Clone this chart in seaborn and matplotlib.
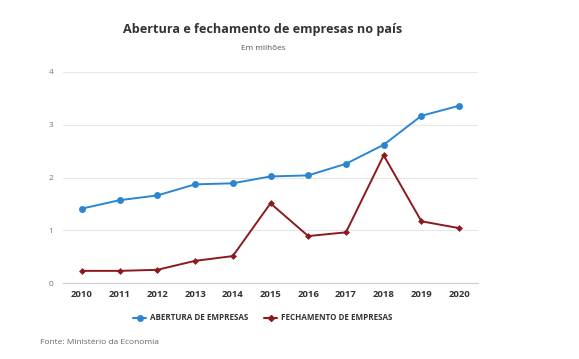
import matplotlib
matplotlib.use("Agg")
import matplotlib.pyplot as plt
import seaborn as sns
import pandas as pd
import numpy as np
from matplotlib.lines import Line2D

years = [2010, 2011, 2012, 2013, 2014, 2015, 2016, 2017, 2018, 2019, 2020]
abertura = [1.41, 1.57, 1.66, 1.87, 1.89, 2.02, 2.04, 2.26, 2.62, 3.17, 3.36]
fechamento = [0.23, 0.23, 0.25, 0.42, 0.51, 1.51, 0.89, 0.96, 2.42, 1.17, 1.04]
series_names = ["ABERTURA DE EMPRESAS", "FECHAMENTO DE EMPRESAS"]
colors = ["#2b86d1", "#8b1a1f"]

sns.set_theme(style="white")
plt.rcParams['font.family'] = ['Open Sans', 'DejaVu Sans']

df = pd.DataFrame({
    "idx": list(range(len(years))) * 2,
    "valor": abertura + fechamento,
    "serie": [series_names[0]] * len(years) + [series_names[1]] * len(years),
})

fig = plt.figure(figsize=(5.79, 3.59), dpi=100)
ax = fig.add_axes([63/579, 1 - 283/359, (478-63)/579, (283-72)/359])

sns.lineplot(data=df, x="idx", y="valor", hue="serie", style="serie",
             palette=colors, markers={series_names[0]: "o", series_names[1]: "D"},
             dashes=False, markersize=5, linewidth=1.4, markeredgewidth=0,
             ax=ax, legend=False)
ax.lines[1].set_markersize(3.5)

ax.set_xlim(-0.5, len(years) - 0.5)
ax.set_ylim(0, 4)
ax.set_yticks([0, 1, 2, 3, 4])
ax.set_yticklabels(["0", "1", "2", "3", "4"], fontsize=6, color="#777777")
ax.set_xticks(range(len(years)))
ax.set_xticklabels([str(y) for y in years], fontsize=6.8, fontweight="bold", color="#333333")
ax.set_xticks(np.arange(-0.5, len(years), 1), minor=True)
ax.tick_params(axis="x", which="major", length=0, pad=5)
ax.tick_params(axis="x", which="minor", length=6, color="#cccccc", width=0.8)
ax.tick_params(axis="y", length=0, pad=7)

ax.grid(axis="y", color="#e6e6e6", linewidth=0.8)
ax.set_axisbelow(True)
for s in ["top", "right", "left"]:
    ax.spines[s].set_visible(False)
ax.spines["bottom"].set_color("#cccccc")
ax.spines["bottom"].set_linewidth(0.8)
ax.set_xlabel("")
ax.set_ylabel("")

fig.text(263/579, 1 - 29/359, "Abertura e fechamento de empresas no país",
         ha="center", va="center", fontsize=9.1, fontweight="bold", color="#333333")
fig.text(263/579, 1 - 49/359, "Em milhões", ha="center", va="center",
         fontsize=5.9, color="#555555")

handles = [Line2D([0], [0], color=colors[0], marker="o", markersize=4, linewidth=1.5),
           Line2D([0], [0], color=colors[1], marker="D", markersize=3, linewidth=1.5)]
leg = fig.legend(handles, series_names, loc="center", bbox_to_anchor=(263/579, 1 - 318/359),
                 ncol=2, frameon=False, fontsize=5.8, handlelength=1.6, columnspacing=2.0,
                 handletextpad=0.5)
for t in leg.get_texts():
    t.set_fontweight("bold")
    t.set_color("#333333")

fig.text(40/579, 1 - 343/359, "Fonte: Ministério da Economia", ha="left", va="center",
         fontsize=6.0, color="#666666")

fig.savefig("out.png", dpi=100)
